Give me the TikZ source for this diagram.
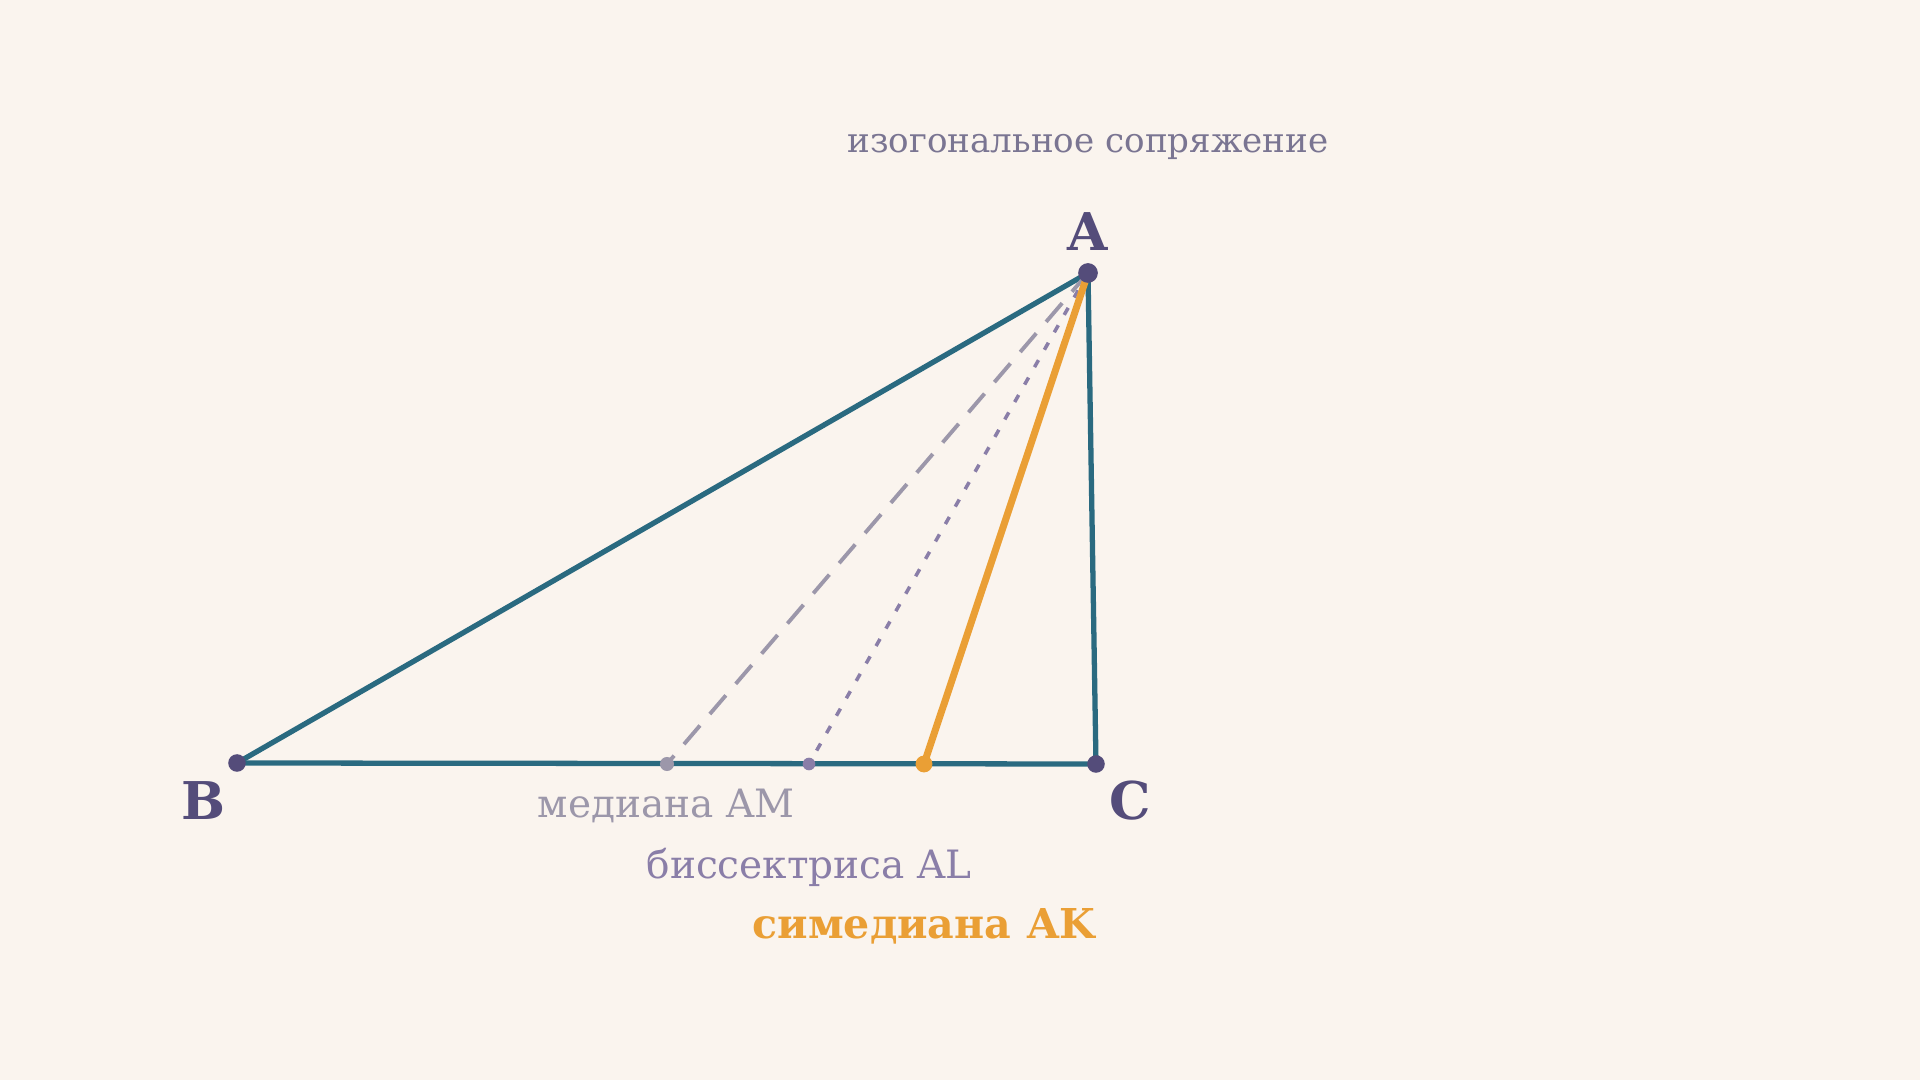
\documentclass[tikz,border=0pt]{standalone}
\usepackage{fontspec}
\setmainfont{DejaVu Serif}
\definecolor{bg}{HTML}{FAF4EE}
\definecolor{teal}{HTML}{2A6A80}
\definecolor{vert}{HTML}{544C7A}
\definecolor{medc}{HTML}{9C97AA}
\definecolor{bisc}{HTML}{8A7EA8}
\definecolor{orng}{HTML}{EA9F35}
\definecolor{titc}{HTML}{7A7592}
\tikzset{
  side/.style={draw=teal, line width=1.5pt, line cap=round},
  medline/.style={draw=medc, line width=1.1pt, dash pattern=on 7pt off 4.3pt},
  bisline/.style={draw=bisc, line width=1pt, dash pattern=on 2.3pt off 3.4pt},
  symline/.style={draw=orng, line width=2pt, line cap=round},
  vlabel/.style={anchor=base, text=vert, font=\fontsize{14.8}{18}\selectfont\bfseries, inner sep=0pt},
  lbl/.style={anchor=base, font=\fontsize{11.1}{13}\selectfont, inner sep=0pt}
}
\begin{document}
\begin{tikzpicture}[x=0.01cm, y=-0.01cm]
\fill[bg] (0,0) rectangle (1920,1080);
\useasboundingbox (0,0) rectangle (1920,1080);
\coordinate (A) at (1088,273);
\coordinate (B) at (237,763);
\coordinate (C) at (1096,764);
\coordinate (M) at (667,764);
\coordinate (L) at (809,764);
\coordinate (K) at (924,764);
\draw[side] (B) -- (C);
\draw[side] (B) -- (A);
\draw[side] (A) -- (C);
\draw[medline] (A) -- (M);
\draw[bisline] (A) -- (L);
\draw[symline] (A) -- (K);
\fill[medc] (M) circle (2pt);
\fill[bisc] (L) circle (1.8pt);
\fill[orng] (K) circle (2.4pt);
\fill[vert] (B) circle (2.5pt);
\fill[vert] (C) circle (2.5pt);
\fill[vert] (A) circle (2.8pt);
\node[vlabel] (lA) at (1088,251) {A};
\node[vlabel] (lB) at (203,820) {B};
\node[vlabel] (lC) at (1130,820) {C};
\node[lbl, text=titc, font=\fontsize{9.7}{12}\selectfont] (title) at (1088,153) {изогональное сопряжение};
\node[lbl, text=medc] (tm) at (666,818) {медиана AM};
\node[lbl, text=bisc] (tb) at (809,879) {биссектриса AL};
\node[lbl, text=orng, font=\fontsize{11.7}{14}\selectfont\bfseries] (ts) at (924,939) {симедиана\hspace{0.4em}AK};
\end{tikzpicture}
\end{document}
